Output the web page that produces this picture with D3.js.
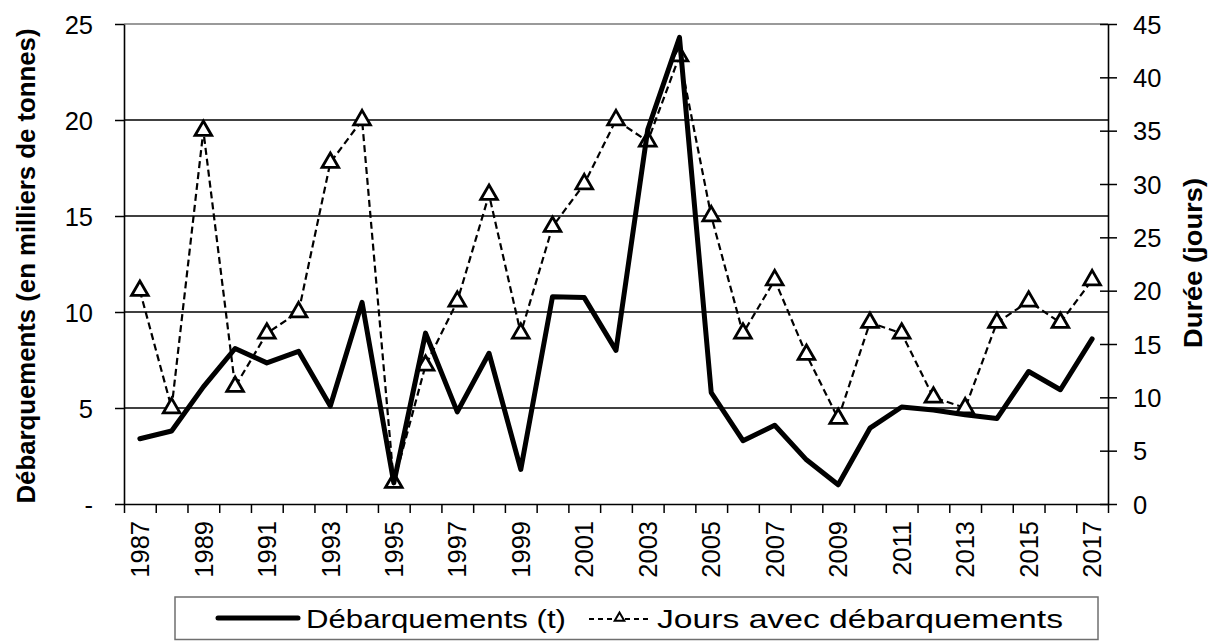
<!DOCTYPE html>
<html>
<head>
<meta charset="utf-8">
<script src="https://cdn.jsdelivr.net/npm/d3@7"></script>
<style>
  html, body { margin: 0; padding: 0; background: #fff; }
  svg { display: block; font-family: "Liberation Sans", Arial, sans-serif; }
</style>
</head>
<body>
<svg id="chart" width="1220" height="641"></svg>
<script>
// data
const years = [1987, 1988, 1989, 1990, 1991, 1992, 1993, 1994, 1995, 1996,
  1997, 1998, 1999, 2000, 2001, 2002, 2003, 2004, 2005, 2006,
  2007, 2008, 2009, 2010, 2011, 2012, 2013, 2014, 2015, 2016, 2017];
const landings = [3.4, 3.8, 6.1, 8.1, 7.35, 7.95, 5.1, 10.5, 1.1, 8.9,
  4.8, 7.85, 1.8, 10.8, 10.75, 8.0, 19.5, 24.3, 5.8, 3.3,
  4.1, 2.3, 1.0, 3.95, 5.05, 4.9, 4.65, 4.45, 6.9, 5.95, 8.6];
const days = [20, 9, 35, 11, 16, 18, 32, 36, 2, 13,
  19, 29, 16, 26, 30, 36, 34, 42, 27, 16,
  21, 14, 8, 17, 16, 10, 9, 17, 19, 17, 21];
const leftTicks = [0, 5, 10, 15, 20, 25];
const rightTicks = [0, 5, 10, 15, 20, 25, 30, 35, 40, 45];
const labelYears = [1987, 1989, 1991, 1993, 1995, 1997, 1999, 2001, 2003,
  2005, 2007, 2009, 2011, 2013, 2015, 2017];
const legendItems = ["Débarquements (t)", "Jours avec débarquements"];

const svg = d3.select("#chart");
const width = 1220, height = 641;
const margin = { top: 24, right: 112, bottom: 137, left: 124 };
const x0 = margin.left, x1 = width - margin.right;
const y0 = height - margin.bottom, y1 = margin.top;

svg.append("rect").attr("width", width).attr("height", height).attr("fill", "#fff");

const x = d3.scaleBand().domain(years).range([x0, x1]).paddingInner(0).paddingOuter(0);
const xEdges = d3.scaleLinear().domain([0, years.length]).range([x0, x1]);
const yL = d3.scaleLinear().domain([0, 25]).range([y0, y1]);
const yR = d3.scaleLinear().domain([0, 45]).range([y0, y1]);
const cx = (d) => x(d) + x.bandwidth() / 2;

// gridlines
svg.append("g")
  .selectAll("line")
  .data(leftTicks.filter((v) => v > 0))
  .join("line")
  .attr("x1", x0).attr("x2", x1)
  .attr("y1", (d) => yL(d)).attr("y2", (d) => yL(d))
  .attr("stroke", (d) => (d === 25 ? "#9a9a9a" : "#000"))
  .attr("stroke-width", (d) => (d === 25 ? 2 : 1.3));

// left axis
const leftAxis = svg.append("g")
  .attr("transform", `translate(${x0},0)`)
  .call(d3.axisLeft(yL).tickValues(leftTicks).tickSize(9).tickSizeOuter(0).tickPadding(22)
    .tickFormat((d) => (d === 0 ? "-" : d)));

// right axis
const rightAxis = svg.append("g")
  .attr("transform", `translate(${x1},0)`)
  .call(d3.axisRight(yR).tickValues(rightTicks).tickSize(9).tickSizeOuter(0).tickPadding(16));
rightAxis.selectAll(".tick line").attr("x1", -8);

// x axis: tick marks on category edges, labels on odd years
const xTicks = svg.append("g")
  .attr("transform", `translate(0,${y0})`)
  .call(d3.axisBottom(xEdges).tickValues(d3.range(0, years.length + 1)).tickSize(9)
    .tickSizeOuter(0).tickFormat(""));

const xLabels = svg.append("g")
  .attr("transform", `translate(0,${y0})`)
  .call(d3.axisBottom(x).tickValues(labelYears).tickSize(0));
xLabels.select(".domain").remove();
xLabels.selectAll("text")
  .attr("transform", "rotate(-90)")
  .attr("text-anchor", "end")
  .attr("x", -17)
  .attr("y", 0)
  .attr("dy", "0.36em");

[leftAxis, rightAxis, xTicks, xLabels].forEach((g) => {
  g.selectAll("text").attr("font-size", 25.5).attr("fill", "#000")
    .attr("font-family", "'Liberation Sans', Arial, sans-serif");
  g.selectAll("line").attr("stroke", "#000").attr("stroke-width", 1.5);
  g.selectAll(".domain").attr("stroke", "#000").attr("stroke-width", 1.6);
});
leftAxis.selectAll("text").attr("dy", "0.36em");
rightAxis.selectAll("text").attr("dy", "0.36em");

// axis titles
svg.append("text")
  .attr("transform", `translate(26,${(y0 + y1) / 2 + 2}) rotate(-90)`)
  .attr("text-anchor", "middle")
  .attr("dominant-baseline", "central")
  .attr("font-size", 25)
  .attr("font-weight", "bold")
  .attr("textLength", 475)
  .attr("lengthAdjust", "spacingAndGlyphs")
  .text("Débarquements (en milliers de tonnes)");

svg.append("text")
  .attr("transform", `translate(1193,263) rotate(-90)`)
  .attr("text-anchor", "middle")
  .attr("dominant-baseline", "central")
  .attr("font-size", 25)
  .attr("font-weight", "bold")
  .attr("textLength", 170)
  .attr("lengthAdjust", "spacingAndGlyphs")
  .text("Durée (jours)");

// dashed series (right axis)
const daysLine = d3.line().x((d, i) => cx(years[i])).y((d) => yR(d));
svg.append("path")
  .datum(days)
  .attr("d", daysLine)
  .attr("fill", "none")
  .attr("stroke", "#000")
  .attr("stroke-width", 2.2)
  .attr("stroke-dasharray", "7,4");

const tri = d3.symbol(d3.symbolTriangle, 120);
svg.append("g")
  .selectAll("path")
  .data(days)
  .join("path")
  .attr("d", tri)
  .attr("transform", (d, i) => `translate(${cx(years[i])},${yR(d)})`)
  .attr("fill", "#fff")
  .attr("stroke", "#000")
  .attr("stroke-width", 2.8);

// solid series (left axis)
const landLine = d3.line().x((d, i) => cx(years[i])).y((d) => yL(d));
svg.append("path")
  .datum(landings)
  .attr("d", landLine)
  .attr("fill", "none")
  .attr("stroke", "#000")
  .attr("stroke-width", 5)
  .attr("stroke-linejoin", "round")
  .attr("stroke-linecap", "round");

// legend
const legend = svg.append("g");
legend.append("rect")
  .attr("x", 175).attr("y", 597).attr("width", 923).attr("height", 42.5)
  .attr("fill", "#fff").attr("stroke", "#6f6f6f").attr("stroke-width", 1.5);

legend.append("line")
  .attr("x1", 218).attr("x2", 298).attr("y1", 618).attr("y2", 618)
  .attr("stroke", "#000").attr("stroke-width", 5).attr("stroke-linecap", "round");
legend.append("text")
  .attr("x", 306).attr("y", 628)
  .attr("font-size", 25)
  .attr("textLength", 260).attr("lengthAdjust", "spacingAndGlyphs")
  .text(legendItems[0]);

legend.append("line")
  .attr("x1", 589).attr("x2", 650).attr("y1", 619).attr("y2", 619)
  .attr("stroke", "#000").attr("stroke-width", 1.8).attr("stroke-dasharray", "5,4");
legend.append("path")
  .attr("d", d3.symbol(d3.symbolTriangle, 40))
  .attr("transform", "translate(619.5,618)")
  .attr("fill", "#fff").attr("stroke", "#000").attr("stroke-width", 2);
legend.append("text")
  .attr("x", 657).attr("y", 628)
  .attr("font-size", 25)
  .attr("textLength", 406).attr("lengthAdjust", "spacingAndGlyphs")
  .text(legendItems[1]);
</script>
</body>
</html>
